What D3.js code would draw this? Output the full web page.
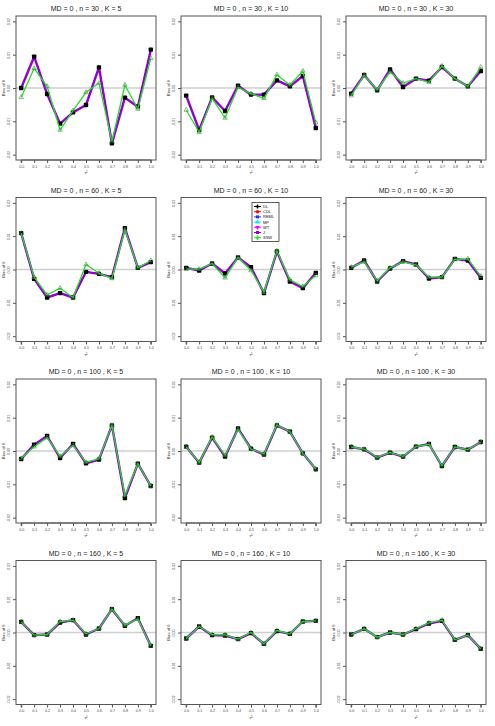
<!DOCTYPE html>
<html>
<head>
<meta charset="utf-8">
<script src="https://cdn.jsdelivr.net/npm/d3@7"></script>
<style>
  body { margin: 0; background: #fff; }
  svg { display: block; font-family: "Liberation Sans", Arial, sans-serif; }
</style>
</head>
<body>
<div id="chart"></div>
<script>
// x values (tau^2) and tick labels
const tau2 = [0.0, 0.1, 0.2, 0.3, 0.4, 0.5, 0.6, 0.7, 0.8, 0.9, 1.0];
const xTickLabels = ["0.0", "0.1", "0.2", "0.3", "0.4", "0.5", "0.6", "0.7", "0.8", "0.9", "1.0"];
const yTicks = [-0.02, -0.01, 0.00, 0.01, 0.02];
const yTickLabels = ["-0.02", "-0.01", "0.00", "0.01", "0.02"];

const nValues = [30, 60, 100, 160];
const kValues = [5, 10, 30];

const estimators = ["DL", "CDL", "REML", "MP", "WT", "J", "SSW"];
const estColors = ["#000000", "#ff0000", "#2a2aff", "#00e5ff", "#ff00ff", "#9400d3", "#22e022"];

// bias of J (and the estimators hidden underneath it), one row per panel
const biasJ = [
  [0.0000, 0.0094, -0.0018, -0.0107, -0.0073, -0.0051, 0.0062, -0.0166, -0.0029, -0.0056, 0.0115],
  [-0.0023, -0.0126, -0.0028, -0.0069, 0.0007, -0.0020, -0.0020, 0.0023, 0.0005, 0.0036, -0.0120],
  [-0.0017, 0.0039, -0.0007, 0.0056, 0.0003, 0.0028, 0.0022, 0.0063, 0.0028, 0.0005, 0.0051],
  [0.0109, -0.0028, -0.0084, -0.0071, -0.0084, -0.0007, -0.0013, -0.0023, 0.0124, 0.0005, 0.0022],
  [0.0005, -0.0003, 0.0018, -0.0012, 0.0036, 0.0007, -0.0071, 0.0054, -0.0036, -0.0056, -0.0010],
  [0.0005, 0.0027, -0.0036, 0.0003, 0.0025, 0.0015, -0.0027, -0.0023, 0.0032, 0.0027, -0.0025],
  [-0.0024, 0.0019, 0.0045, -0.0021, 0.0021, -0.0037, -0.0026, 0.0077, -0.0141, -0.0038, -0.0105],
  [0.0013, -0.0035, 0.0040, -0.0017, 0.0068, 0.0007, -0.0011, 0.0077, 0.0058, -0.0007, -0.0055],
  [0.0012, 0.0005, -0.0020, -0.0005, -0.0017, 0.0013, 0.0021, -0.0045, 0.0012, 0.0004, 0.0027],
  [0.0032, -0.0008, -0.0006, 0.0030, 0.0037, -0.0006, 0.0012, 0.0070, 0.0020, 0.0043, -0.0040],
  [-0.0018, 0.0018, -0.0008, -0.0009, -0.0020, -0.0002, -0.0034, 0.0004, -0.0004, 0.0033, 0.0035],
  [-0.0006, 0.0011, -0.0014, 0.0000, -0.0006, 0.0010, 0.0027, 0.0035, -0.0022, -0.0008, -0.0049]
];

// bias of SSW, one row per panel
const biasSSW = [
  [-0.0028, 0.0059, 0.0005, -0.0126, -0.0068, -0.0013, 0.0015, -0.0160, 0.0009, -0.0063, 0.0089],
  [-0.0066, -0.0133, -0.0031, -0.0090, 0.0002, -0.0017, -0.0031, 0.0040, 0.0009, 0.0051, -0.0104],
  [-0.0023, 0.0038, -0.0005, 0.0048, 0.0015, 0.0028, 0.0017, 0.0066, 0.0028, 0.0005, 0.0063],
  [0.0109, -0.0023, -0.0076, -0.0056, -0.0084, 0.0015, -0.0011, -0.0027, 0.0119, 0.0005, 0.0027],
  [0.0001, 0.0001, 0.0018, -0.0025, 0.0036, -0.0003, -0.0068, 0.0056, -0.0031, -0.0051, -0.0018],
  [0.0007, 0.0023, -0.0034, 0.0005, 0.0023, 0.0014, -0.0023, -0.0023, 0.0030, 0.0032, -0.0020],
  [-0.0022, 0.0013, 0.0040, -0.0016, 0.0017, -0.0034, -0.0023, 0.0077, -0.0133, -0.0038, -0.0105],
  [0.0012, -0.0034, 0.0042, -0.0013, 0.0065, 0.0006, -0.0009, 0.0078, 0.0058, -0.0007, -0.0054],
  [0.0012, 0.0006, -0.0019, -0.0004, -0.0016, 0.0013, 0.0020, -0.0044, 0.0012, 0.0004, 0.0027],
  [0.0032, -0.0008, -0.0006, 0.0033, 0.0037, -0.0004, 0.0012, 0.0070, 0.0022, 0.0040, -0.0040],
  [-0.0018, 0.0018, -0.0006, -0.0007, -0.0020, 0.0000, -0.0034, 0.0006, -0.0004, 0.0033, 0.0035],
  [-0.0006, 0.0011, -0.0014, 0.0000, -0.0006, 0.0012, 0.0029, 0.0037, -0.0022, -0.0008, -0.0049]
];

const W = 495, H = 726;
const colW = 165, rowH = 181.5;
const box = { left: 16, top: 16, width: 140, height: 144 };

const svg = d3.select("#chart").append("svg")
  .attr("width", W)
  .attr("height", H);

const x = d3.scaleLinear().domain([-0.04, 1.04]).range([0, box.width]);
const y = d3.scaleLinear().domain([-0.0216, 0.0216]).range([box.height, 0]);

const line = d3.line()
  .x((d, i) => x(tau2[i]))
  .y(d => y(d));

function drawPanel(p) {
  const row = Math.floor(p / 3), col = p % 3;
  const g = svg.append("g")
    .attr("transform", `translate(${col * colW + box.left},${row * rowH + box.top})`);

  // title
  g.append("text")
    .attr("x", box.width / 2)
    .attr("y", -5)
    .attr("text-anchor", "middle")
    .attr("font-size", 7)
    .attr("fill", "#222")
    .text(`MD = 0 , n = ${nValues[row]} , K = ${kValues[col]}`);

  // zero reference line
  g.append("line")
    .attr("x1", 0).attr("x2", box.width)
    .attr("y1", y(0)).attr("y2", y(0))
    .attr("stroke", "#cfcfcf")
    .attr("stroke-width", 1.5);

  // axes
  const xAxis = g.append("g")
    .attr("transform", `translate(0,${box.height})`)
    .call(d3.axisBottom(x).tickValues(tau2).tickFormat((d, i) => xTickLabels[i]).tickSize(3).tickPadding(2));
  xAxis.select(".domain").attr("d", `M${x(0)},3V0H${x(1)}V3`).attr("stroke", "#555");
  xAxis.selectAll(".tick line").attr("stroke", "#555");
  xAxis.selectAll("text").attr("font-size", 3.6).attr("fill", "#444").attr("font-family", "Liberation Sans, Arial, sans-serif");

  const yAxis = g.append("g")
    .call(d3.axisLeft(y).tickValues(yTicks).tickFormat((d, i) => yTickLabels[i]).tickSize(3).tickPadding(2));
  yAxis.select(".domain").remove();
  yAxis.selectAll(".tick line").attr("stroke", "#555");
  yAxis.selectAll("text")
    .attr("font-size", 3.6)
    .attr("fill", "#444")
    .attr("font-family", "Liberation Sans, Arial, sans-serif")
    .attr("text-anchor", "middle")
    .attr("transform", "rotate(-90)")
    .attr("x", 0)
    .attr("y", -6.5)
    .attr("dy", 0);

  // box
  g.append("rect")
    .attr("width", box.width)
    .attr("height", box.height)
    .attr("fill", "none")
    .attr("stroke", "#555")
    .attr("stroke-width", 1);

  // axis titles
  g.append("text")
    .attr("transform", `translate(-11,${box.height / 2}) rotate(-90)`)
    .attr("text-anchor", "middle")
    .attr("font-size", 4.2)
    .attr("fill", "#333")
    .text("Bias of θ");

  g.append("text")
    .attr("x", box.width / 2)
    .attr("y", box.height + 14)
    .attr("text-anchor", "middle")
    .attr("font-size", 4.2)
    .attr("fill", "#333")
    .text("τ²");

  // estimators hidden under J
  estimators.slice(0, 5).forEach((e, k) => {
    g.append("path")
      .datum(biasJ[p])
      .attr("fill", "none")
      .attr("stroke", estColors[k])
      .attr("stroke-width", 1)
      .attr("d", line);
  });

  // J
  g.append("path")
    .datum(biasJ[p])
    .attr("fill", "none")
    .attr("stroke", estColors[5])
    .attr("stroke-width", 2.4)
    .attr("stroke-linejoin", "round")
    .attr("d", line);

  g.selectAll(".ptJ")
    .data(biasJ[p])
    .join("rect")
    .attr("x", (d, i) => x(tau2[i]) - 2.2)
    .attr("y", d => y(d) - 2.2)
    .attr("width", 4.4)
    .attr("height", 4.4)
    .attr("rx", 0.8)
    .attr("fill", "#000");

  // SSW
  g.append("path")
    .datum(biasSSW[p])
    .attr("fill", "none")
    .attr("stroke", estColors[6])
    .attr("stroke-width", 1.3)
    .attr("d", line);

  g.selectAll(".ptS")
    .data(biasSSW[p])
    .join("path")
    .attr("transform", (d, i) => `translate(${x(tau2[i])},${y(d)})`)
    .attr("d", d3.symbol(d3.symbolTriangle2, 14))
    .attr("fill", "none")
    .attr("stroke", "#3a8a3a")
    .attr("stroke-width", 0.6);

  return g;
}

const groups = d3.range(12).map(drawPanel);

// legend (panel n = 60, K = 10)
const legendSymbols = [d3.symbolCross, d3.symbolCircle, d3.symbolSquare, d3.symbolTriangle, d3.symbolTriangle, d3.symbolSquare, d3.symbolDiamond];
const lg = groups[4].append("g").attr("transform", "translate(71,5)");
lg.append("rect")
  .attr("width", 27)
  .attr("height", 39)
  .attr("fill", "#fff")
  .attr("stroke", "#333")
  .attr("stroke-width", 0.8);
estimators.forEach((e, k) => {
  const ry = 4 + k * 5.2;
  lg.append("line")
    .attr("x1", 2).attr("x2", 9)
    .attr("y1", ry).attr("y2", ry)
    .attr("stroke", estColors[k])
    .attr("stroke-width", 1);
  lg.append("path")
    .attr("transform", `translate(5.5,${ry})${k === 4 ? " rotate(180)" : ""}`)
    .attr("d", d3.symbol(legendSymbols[k], 9))
    .attr("fill", estColors[k]);
  lg.append("text")
    .attr("x", 11)
    .attr("y", ry + 1.4)
    .attr("font-size", 4)
    .attr("fill", "#111")
    .text(e);
});
</script>
</body>
</html>
